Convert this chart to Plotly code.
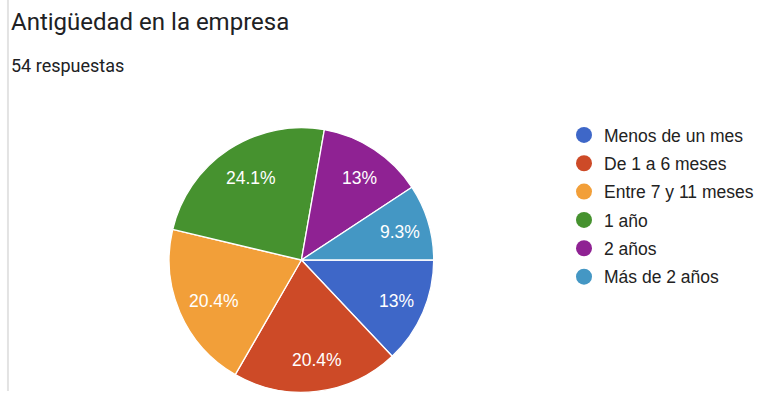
import math
import plotly.graph_objects as go

# Survey answers: length of time at the company (54 responses)
categories = ["Menos de un mes", "De 1 a 6 meses", "Entre 7 y 11 meses",
              "1 año", "2 años", "Más de 2 años"]
counts = [7, 11, 11, 13, 7, 5]
colors = ["#3e67c8", "#cd4a27", "#f29f39", "#46922f", "#8f2293", "#4497c4"]

W, H = 759, 394


def px(x):
    return x / W


def py(y):
    return 1 - y / H


# Pie placement (pixels): bounding square of the circle
pie_left, pie_right, pie_top, pie_bottom = 170, 436, 127, 393

fig = go.Figure()

fig.add_trace(go.Pie(
    labels=categories,
    values=counts,
    sort=False,
    direction="clockwise",
    rotation=90,
    marker=dict(colors=colors, line=dict(color="white", width=1.3)),
    textinfo="none",
    domain=dict(x=[px(pie_left), px(pie_right)], y=[py(pie_bottom), py(pie_top)]),
    showlegend=False,
    hoverinfo="label+value+percent",
))

# Percentage labels, placed at each slice's mid-angle
total = sum(counts)
cx = (pie_left + pie_right) / 2 + 4
cy = (pie_top + pie_bottom) / 2 + 1
R = (pie_bottom - pie_top) / 2
label_r = 0.75 * R
annotations = []
cum = 0
for c in counts:
    frac = c / total
    mid = (cum + frac / 2) * 2 * math.pi  # clockwise from 3 o'clock
    cum += frac
    lx = cx + label_r * math.cos(mid)
    ly = cy + label_r * math.sin(mid)
    annotations.append(dict(
        text=f"{round(100 * frac, 1):g}%", x=px(lx), y=py(ly),
        xref="paper", yref="paper", xanchor="center", yanchor="middle",
        showarrow=False,
        font=dict(family="Liberation Sans, Arial, sans-serif", size=17.5, color="white"),
    ))

# Legend entries drawn as round markers, one group per category
for name, col in zip(categories, colors):
    fig.add_trace(go.Scatter(
        x=[None], y=[None], mode="markers", name=name,
        legendgroup=name,
        marker=dict(symbol="circle", size=16, color=col),
        hoverinfo="skip",
    ))

annotations += [
    dict(text="Antigüedad en la empresa", x=px(9), y=py(22), xref="paper", yref="paper",
         xanchor="left", yanchor="middle", showarrow=False,
         font=dict(family="Roboto, sans-serif", size=24, color="#202124")),
    dict(text="54 respuestas", x=px(9), y=py(65), xref="paper", yref="paper",
         xanchor="left", yanchor="middle", showarrow=False,
         font=dict(family="Roboto, sans-serif", size=18, color="#202124")),
]

fig.update_layout(
    width=W, height=H,
    margin=dict(l=0, r=0, t=0, b=0),
    paper_bgcolor="white",
    plot_bgcolor="white",
    xaxis=dict(visible=False),
    yaxis=dict(visible=False),
    legend=dict(
        x=px(567), y=py(117), xanchor="left", yanchor="top",
        font=dict(family="Liberation Sans, Arial, sans-serif", size=17.5, color="#222222"),
        tracegroupgap=2.6,
        itemwidth=30,
        bgcolor="rgba(0,0,0,0)",
    ),
    annotations=annotations,
    shapes=[
        dict(type="line", xref="paper", yref="paper",
             x0=px(8), x1=px(8), y0=py(0), y1=py(391),
             line=dict(color="#e3e3e3", width=2)),
    ],
)

fig.write_html("out.html")
